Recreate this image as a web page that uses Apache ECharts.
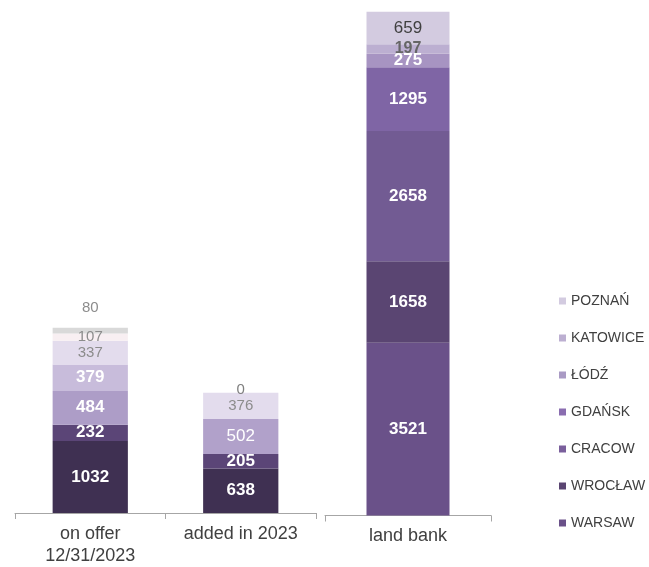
<!DOCTYPE html>
<html>
<head>
<meta charset="utf-8">
<script src="https://cdn.jsdelivr.net/npm/echarts@6/dist/echarts.min.js"></script>
<style>html,body{margin:0;padding:0;background:#fff;}#c{width:649px;height:567px;}</style>
</head>
<body>
<div id="c"></div>
<script>
// ---- data ----
const categoriesLeft = ['on offer\n12/31/2023', 'added in 2023'];
const categoriesRight = ['land bank'];
const cities = ['WARSAW', 'WROCŁAW', 'CRACOW', 'GDAŃSK', 'ŁÓDŹ', 'KATOWICE', 'POZNAŃ'];
const onOffer   = [1032, 232, 484, 379, 337, 107, 80];
const added2023 = [638, 205, 502, null, 376, 0, null];
const landBank  = [3521, 1658, 2658, 1295, 275, 197, 659];

// ---- styles ----
const onOfferColors = ['#3f3052', '#5b4577', '#ad9dc7', '#c8bcdb', '#e3dced', '#f8eff2', '#d9d9d9'];
const addedColors   = ['#3f3052', '#5b4577', '#b1a1ca', '#c8bcdb', '#e3dced', '#f0eaf2', '#d9d9d9'];
const landColors    = ['#6a5189', '#5a4572', '#725b93', '#7f65a5', '#a794c2', '#bcafd1', '#d3cbe0'];
const legendColors  = ['#6a5189', '#5a4572', '#7a5f9c', '#8a6db0', '#a99ac4', '#bcafd1', '#d3cbe0'];

const F = 'Liberation Sans, Arial, sans-serif';
const WB = {show: true, color: '#ffffff', fontWeight: 'bold', fontSize: 17, fontFamily: F};
const WN = {show: true, color: '#ffffff', fontWeight: 'normal', fontSize: 17, fontFamily: F};
const GN = {show: true, color: '#8c8c8c', fontWeight: 'normal', fontSize: 15, fontFamily: F};
const GT = {show: true, color: '#8c8c8c', fontWeight: 'normal', fontSize: 15, fontFamily: F, position: 'top', distance: 12};
const onOfferLabels = [WB, WB, WB, WB, GN, GN, GT];
const addedLabels   = [WB, WB, WN, GN, GN, {show: true, color: '#7f7f7f', fontSize: 15, fontFamily: F, offset: [0, -3]}, GN];
const landLabels    = [WB, WB, WB, WB, WB,
  {show: true, color: '#666666', fontWeight: 'bold', fontSize: 16, fontFamily: F},
  {show: true, color: '#404040', fontWeight: 'normal', fontSize: 17, fontFamily: F}];

const axisCommon = {
  type: 'category',
  axisLine: {lineStyle: {color: '#a6a6a6', width: 1}},
  axisTick: {show: true, length: 6, lineStyle: {color: '#a6a6a6'}},
  axisLabel: {color: '#404040', fontSize: 18, fontFamily: F, margin: 10, lineHeight: 22}
};

const series = [];
cities.forEach((c, i) => {
  series.push({
    name: c, type: 'bar', stack: 'L', xAxisIndex: 0, yAxisIndex: 0, barWidth: '50%',
    itemStyle: {color: legendColors[i]},
    data: [
      {value: onOffer[i], itemStyle: {color: onOfferColors[i]}, label: onOfferLabels[i]},
      {value: added2023[i], itemStyle: {color: addedColors[i]}, label: addedLabels[i]}
    ]
  });
});
cities.forEach((c, i) => {
  series.push({
    name: c, type: 'bar', stack: 'R', xAxisIndex: 1, yAxisIndex: 1, barWidth: '50%',
    itemStyle: {color: legendColors[i]},
    data: [{value: landBank[i], itemStyle: {color: landColors[i]}, label: landLabels[i]}]
  });
});

const chart = echarts.init(document.getElementById('c'));
chart.setOption({
  animation: false,
  backgroundColor: '#ffffff',
  grid: [
    {left: 15, width: 301, top: 10, bottom: 51.5},
    {left: 325, width: 166, top: 10, bottom: 51.5}
  ],
  xAxis: [
    Object.assign({gridIndex: 0, data: categoriesLeft}, axisCommon),
    Object.assign({gridIndex: 1, data: categoriesRight}, axisCommon)
  ],
  yAxis: [
    {gridIndex: 0, type: 'value', min: 0, max: 7200, show: false},
    {gridIndex: 1, type: 'value', min: 0, max: 10300, show: false}
  ],
  legend: {
    orient: 'vertical',
    left: 554, top: 288,
    itemWidth: 7, itemHeight: 7, itemGap: 21,
    icon: 'rect',
    textStyle: {color: '#404040', fontSize: 14, fontFamily: F, lineHeight: 16},
    data: cities.slice().reverse().map(n => ({name: n, itemStyle: {color: legendColors[cities.indexOf(n)]}}))
  },
  series: series
});
</script>
</body>
</html>
